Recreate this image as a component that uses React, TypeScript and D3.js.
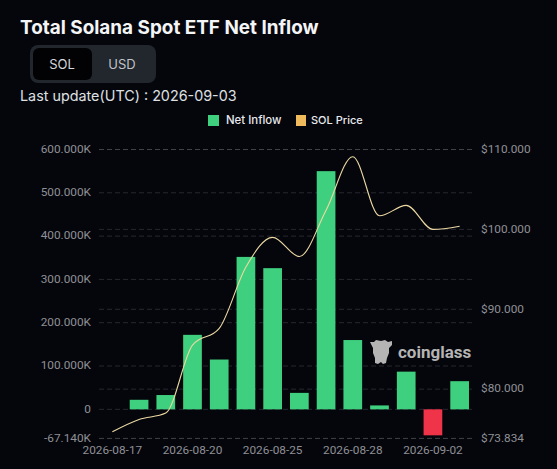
import { useRef, useEffect } from "react";
import * as d3 from "d3";

const dates = ["2026-08-17", "2026-08-18", "2026-08-19", "2026-08-20", "2026-08-21", "2026-08-24", "2026-08-25", "2026-08-26", "2026-08-27", "2026-08-28", "2026-08-31", "2026-09-01", "2026-09-02", "2026-09-03"];
const netInflow = [0, 22000, 33000, 172000, 115000, 352000, 326000, 38000, 550000, 160000, 9000, 87000, -60000, 65000];
const solPrice = [74.66, 76.2, 77.0, 85.5, 87.6, 95.3, 99.0, 96.6, 102.4, 109.1, 101.7, 103.0, 100.0, 100.4];
const xLabels = ["2026-08-17", "2026-08-20", "2026-08-25", "2026-08-28", "2026-09-02"];
const leftTicks = [-67140, 0, 100000, 200000, 300000, 400000, 500000, 600000];
const rightTicks = [73.834, 80, 90, 100, 110];

const W = 557, H = 469;
const BG = "#05060c";
const AXIS = "#8f9095";
const GRID = "rgba(150,152,160,0.24)";
const GREEN = "#3fd07f";
const RED = "#ef3348";
const YELLOW = "#eeba5c";
const FONT = "Roboto, sans-serif";

const fmtLeft = (d: number) => (d === 0 ? "0" : `${(d / 1000).toFixed(3)}K`);
const fmtRight = (d: number) => `$${d.toFixed(3)}`;

export default function App() {
  const svgRef = useRef<SVGSVGElement>(null);

  useEffect(() => {
    if (!svgRef.current) return;
    const svg = d3.select(svgRef.current);
    svg.selectAll("*").remove();

    const x = d3.scaleBand<string>().domain(dates).range([99, 473]).paddingInner(0.3).paddingOuter(0.15);
    const yLeft = d3.scaleLinear().domain([-67140, 600000]).range([438.4, 149.5]);
    const yRight = d3.scaleLinear().domain([73.834, 110]).range([438.4, 149.5]);

    svg.append("rect").attr("width", W).attr("height", H).attr("fill", BG);

    // Header
    const text = (tx: number, ty: number, s: string, size: number, fill: string, weight = 400, anchor = "start") =>
      svg.append("text").attr("x", tx).attr("y", ty).attr("font-size", size).attr("fill", fill)
        .attr("font-weight", weight).attr("text-anchor", anchor).attr("font-family", "Inter, sans-serif").text(s);

    text(20, 33.5, "Total Solana Spot ETF Net Inflow", 18.9, "#f4f5f7", 700);
    svg.append("rect").attr("x", 30).attr("y", 45).attr("width", 126).attr("height", 38).attr("rx", 8).attr("fill", "#22262d");
    svg.append("rect").attr("x", 33).attr("y", 48).attr("width", 59).attr("height", 32).attr("rx", 6).attr("fill", "#020204");
    text(62, 69, "SOL", 13, "#d5d7dc", 400, "middle");
    text(122, 69, "USD", 13, "#bfc2c9", 400, "middle");
    text(20, 101, "Last update(UTC) : 2026-09-03", 14.35, "#dfe0e3");

    // Legend
    svg.append("rect").attr("x", 208).attr("y", 115).attr("width", 11).attr("height", 11).attr("fill", GREEN);
    text(226, 124, "Net Inflow", 11.4, "#e8e9ec", 500);
    svg.append("rect").attr("x", 296).attr("y", 115).attr("width", 10).attr("height", 11).attr("fill", YELLOW);
    text(311, 124, "SOL Price", 11, "#e8e9ec", 500);

    // Axes
    const left = svg.append("g").attr("transform", "translate(99,-1)")
      .call(d3.axisLeft(yLeft).tickValues(leftTicks).tickFormat(fmtLeft as any).tickSize(0).tickPadding(8));
    const right = svg.append("g").attr("transform", "translate(473,-1)")
      .call(d3.axisRight(yRight).tickValues(rightTicks).tickFormat(fmtRight as any).tickSize(0).tickPadding(8));
    const bottom = svg.append("g").attr("transform", "translate(0,440)")
      .call(d3.axisBottom(x).tickValues(xLabels).tickSize(0).tickPadding(6));
    [left, right, bottom].forEach((g) => {
      g.select(".domain").remove();
      g.selectAll("text").attr("fill", AXIS).attr("font-size", 11.8).attr("font-family", FONT);
    });

    // Grid lines for both y axes
    const grid = svg.append("g").attr("stroke", GRID).attr("stroke-dasharray", "5 3").attr("stroke-width", 1);
    [...leftTicks.map((d) => yLeft(d)), ...rightTicks.map((d) => yRight(d))].forEach((y) => {
      grid.append("line").attr("x1", 99).attr("x2", 473).attr("y1", y).attr("y2", y);
    });

    // Bars
    svg.append("g").selectAll("rect").data(dates).join("rect")
      .attr("x", (d) => x(d)!)
      .attr("width", x.bandwidth())
      .attr("y", (_, i) => Math.min(yLeft(netInflow[i]), yLeft(0)))
      .attr("height", (_, i) => Math.abs(yLeft(netInflow[i]) - yLeft(0)))
      .attr("fill", (_, i) => (netInflow[i] < 0 ? RED : GREEN));

    // Watermark
    svg.append("path").attr("fill", "#b4b4b4")
      .attr("d", "M370 342 L374 342 L376 340 L381 341 L385 340 L388 342 L392 341 L392 345 L389 348 L389 353 L387 358 L386 363 L383 364 L381 362 L378 364 L375 363 L375 358 L373 353 L373 348 Z");
    svg.append("text").attr("x", 398).attr("y", 358).attr("font-size", 17).attr("font-weight", 700)
      .attr("font-family", FONT).attr("fill", "#b4b4b4").text("coinglass");

    // Price line
    const line = d3.line<number>()
      .x((_, i) => x(dates[i])! + x.bandwidth() / 2)
      .y((d) => yRight(d))
      .curve(d3.curveMonotoneX);
    svg.append("path").attr("d", line(solPrice)).attr("fill", "none").attr("stroke", "#ecd9a2").attr("stroke-width", 1.1);
  }, []);

  return <svg ref={svgRef} width={W} height={H} style={{ position: "fixed", left: 0, top: 0 }} />;
}
